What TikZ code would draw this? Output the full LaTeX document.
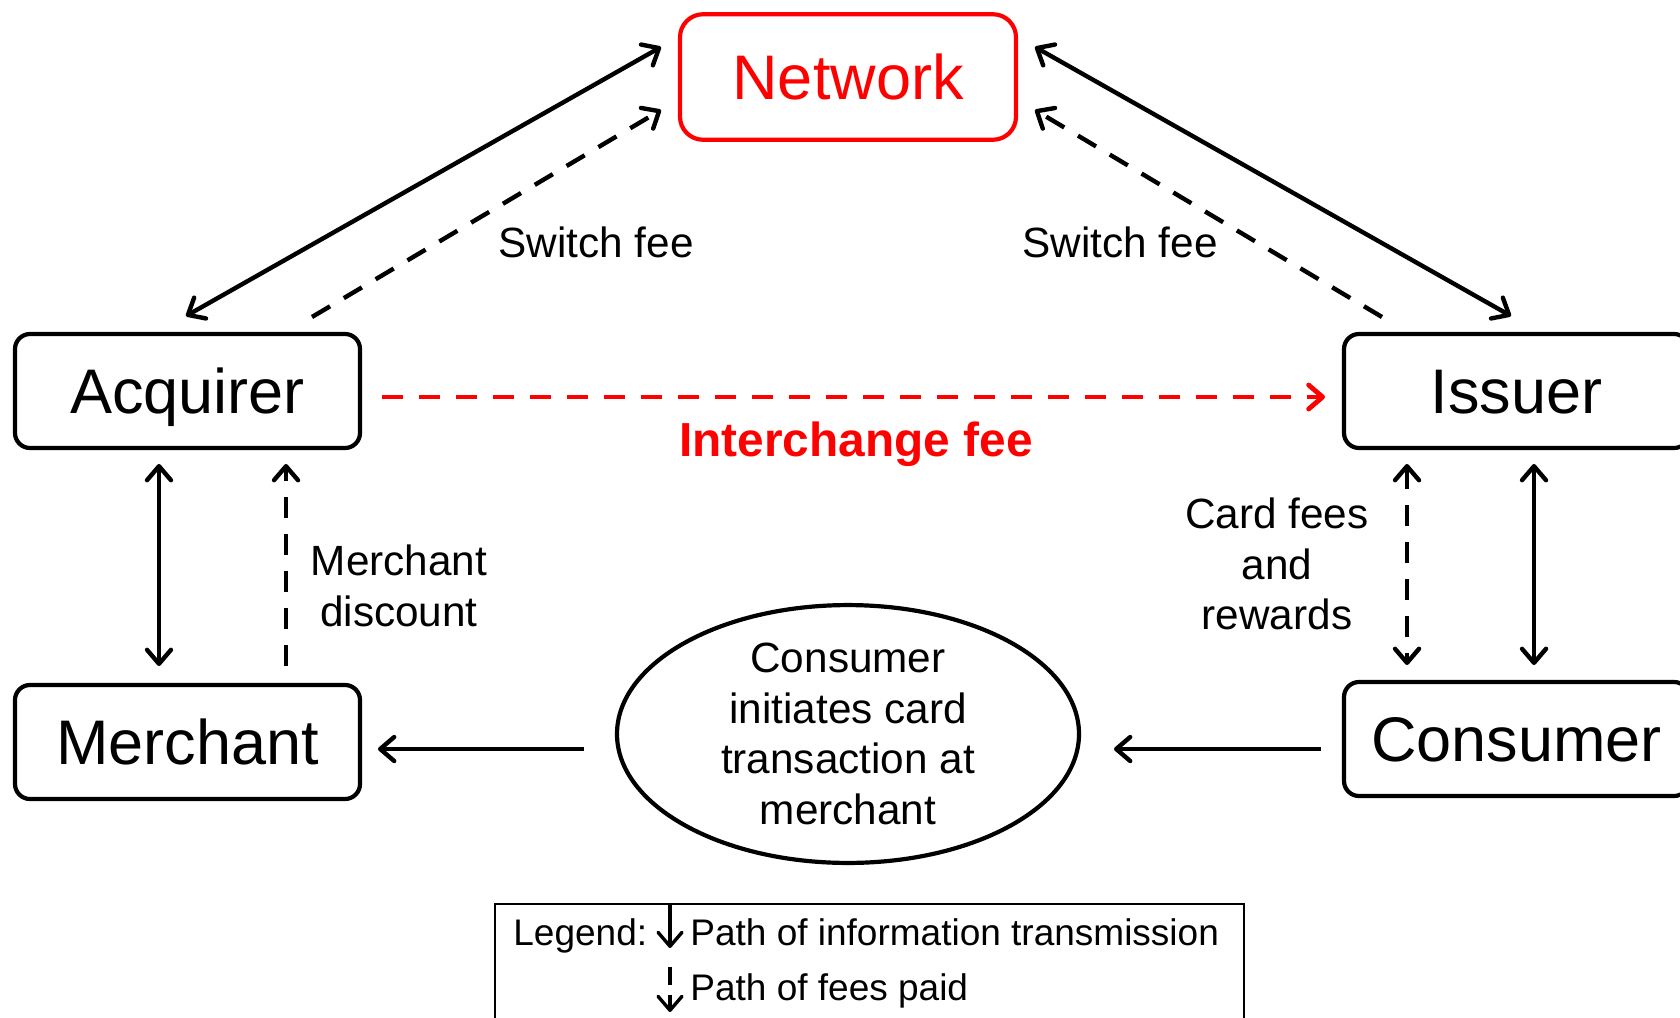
\documentclass[tikz,border=0pt]{standalone}
\usepackage{fontspec}
\setmainfont{Liberation Sans}
\usetikzlibrary{arrows.meta,shapes.geometric,calc}
\definecolor{netred}{RGB}{255,0,0}
\begin{document}
\begin{tikzpicture}[x=0.5pt,y=-0.5pt,
  box/.style={draw, line width=2.1pt, rounded corners=7.5pt, minimum width=172.5pt,
    minimum height=57pt, inner sep=0pt, outer sep=0pt,
    font=\fontsize{31.5}{37.8}\selectfont, text height=22.6pt, text depth=0pt},
  lbl/.style={font=\fontsize{21.15}{25.4}\selectfont, align=center, inner sep=0pt},
  leg/.style={font=\fontsize{18.5}{22.2}\selectfont, inner sep=0pt},
  arr/.style={line width=2.2pt, >={Straight Barb[length=7pt,width=12pt,round]}},
  dsh/.style={arr, dash pattern=on 10.5pt off 8pt},
]
\useasboundingbox (0,0) rectangle (1680,1017);

% main boxes
\node[box, draw=netred, text=netred, rounded corners=11.5pt, minimum width=168pt, minimum height=62.75pt] (net) at (848,77) {Network};
\node[box] (acq) at (187.5,391) {Acquirer};
\node[box] (iss) at (1516.5,391) {Issuer};
\node[box] (mer) at (187.5,742) {Merchant};
\node[box] (con) at (1516.5,739) {Consumer};
\node[draw, ellipse, line width=2.1pt, minimum width=231pt, minimum height=128pt, inner sep=0pt, outer sep=0pt,
  font=\fontsize{21.15}{25.4}\selectfont, align=center] (ell) at (848,734)
  {Consumer\\initiates card\\transaction at\\merchant};

% labels
\node[lbl, anchor=base] (sw1) at (596,257) {Switch fee};
\node[lbl, anchor=base] (sw2) at (1120,257) {Switch fee};
\node[inner sep=0pt, anchor=base, text=netred, font=\fontsize{23.9}{28.7}\selectfont\bfseries] (icf) at (856,456) {Interchange fee};
\node[lbl] (md) at (399,586) {Merchant\\discount};
\node[lbl] (cf) at (1277,564) {Card fees\\and\\rewards};

% connectors
\draw[arr,<->] ($(acq.north)+(-1.5,-18)$) -- ($(net.west)+(-19,-30)$);
\draw[dsh,->] ($(acq.north)+(124.5,-17)$) -- ($(net.west)+(-19,33)$);
\draw[arr,<->] ($(iss.north)+(-5.5,-18)$) -- ($(net.east)+(19,-30)$);
\draw[dsh,->] ($(iss.north)+(-134.5,-17)$) -- ($(net.east)+(19,33)$);
\draw[dsh,->,draw=netred,line width=2.4pt] ($(acq.east)+(22,6)$) -- ($(iss.west)+(-19,6)$);
\draw[arr,<->] ($(acq.south)+(-28.5,16)$) -- ($(mer.north)+(-28.5,-19)$);
\draw[dsh,->] ($(mer.north)+(98.5,-19)$) -- ($(acq.south)+(98.5,16)$);
\draw[dsh,<->] ($(iss.south)+(-109.5,16)$) -- ($(con.north)+(-109.5,-17)$);
\draw[arr,<->] ($(iss.south)+(17.5,16)$) -- ($(con.north)+(17.5,-17)$);
\draw[arr,->] ($(con.west)+(-23,10)$) -- ($(ell.east)+(35,15)$);
\draw[arr,->] ($(ell.west)+(-33,15)$) -- ($(mer.east)+(18,7)$);

% legend
\node[draw, line width=1pt, minimum width=374.5pt, minimum height=70pt, inner sep=0pt, outer sep=0pt, anchor=north] (legbox) at (869.5,904) {};
\node[leg, anchor=base west] (legt) at (513,945) {Legend:};
\node[leg, anchor=base west] (leg1) at (690,945) {Path of information transmission};
\node[leg, anchor=base west] (leg2) at (690,1000) {Path of fees paid};
\coordinate (la) at (670,904);
\coordinate (lb) at (670,948);
\coordinate (lc) at (670,967);
\coordinate (ld) at (670,1012);
\draw[arr,->,line width=1.7pt] (la) -- (lb);
\draw[arr,->,line width=1.7pt,dash pattern=on 9pt off 5pt] (lc) -- (ld);
\end{tikzpicture}
\end{document}
